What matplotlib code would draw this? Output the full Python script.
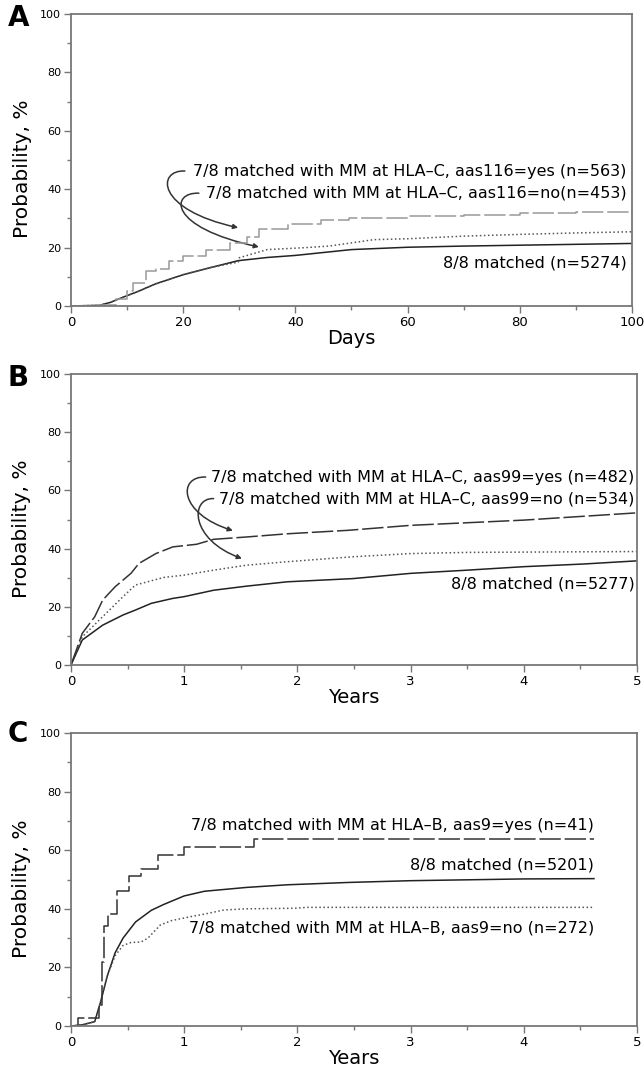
import matplotlib
matplotlib.use("Agg")
import matplotlib.pyplot as plt
from matplotlib.path import Path
from matplotlib.patches import FancyArrowPatch

plt.rcParams['font.family'] = ['DejaVu Sans']

# Panel A - days
a_days_mm116_yes = [0, 5, 8, 10, 11.1, 13.3, 15.2, 17.4, 20, 24, 28.4, 31.3, 33.5, 38.6, 44.5, 49.6, 60, 70, 80, 90, 100]
a_prob_mm116_yes = [0, 0.3, 2.5, 5.0, 7.9, 11.9, 12.5, 15.3, 17.0, 19.3, 21.6, 23.7, 26.4, 27.9, 29.4, 30.2, 30.7, 31.3, 31.9, 32.3, 32.7]
a_days_mm116_no = [0, 5, 7, 9.3, 12, 15, 20, 25, 29.8, 30, 35, 41.2, 46, 54, 60, 70, 80, 90, 100]
a_prob_mm116_no = [0, 0.2, 1.2, 3.0, 5.0, 7.5, 10.7, 13.2, 15.0, 16.5, 19.3, 19.9, 20.5, 22.7, 23.0, 23.9, 24.5, 25.0, 25.4]
a_days_match = [0, 5, 7, 9.3, 12, 15, 20, 25, 29.8, 35, 40, 50, 60, 70, 80, 100]
a_prob_match = [0, 0.2, 1.2, 3.0, 5.0, 7.5, 10.7, 13.2, 15.5, 16.6, 17.3, 19.3, 20.1, 20.5, 20.8, 21.4]

# Panel B - years
b_yrs_mm99_yes = [0, 0.1, 0.21, 0.28, 0.39, 0.53, 0.6, 0.75, 0.9, 1.11, 1.26, 1.55, 1.91, 2.45, 3.0, 3.5, 4.0, 4.52, 5.0]
b_prob_mm99_yes = [0, 10.9, 16.6, 22.3, 26.9, 31.5, 34.9, 38.3, 40.6, 41.5, 43.2, 44.0, 45.1, 46.3, 48.0, 48.9, 49.8, 51.1, 52.3]
b_yrs_mm99_no = [0, 0.1, 0.28, 0.46, 0.57, 0.82, 1.0, 1.26, 1.55, 1.91, 2.49, 3.0, 3.5, 4.45, 5.0]
b_prob_mm99_no = [0, 9.7, 16.6, 23.5, 27.5, 30.1, 30.9, 32.6, 34.3, 35.5, 37.2, 38.3, 38.7, 38.9, 39.0]
b_yrs_match = [0, 0.1, 0.28, 0.46, 0.57, 0.71, 0.9, 1.0, 1.26, 1.55, 1.91, 2.49, 3.0, 3.5, 4.0, 4.52, 5.0]
b_prob_match = [0, 8.6, 13.7, 17.2, 18.9, 21.2, 22.9, 23.5, 25.7, 27.1, 28.6, 29.7, 31.5, 32.6, 33.8, 34.7, 35.8]

# Panel C - years
c_yrs_mm9_yes = [0, 0.06, 0.25, 0.27, 0.29, 0.33, 0.41, 0.51, 0.62, 0.77, 1.0, 1.62, 4.62]
c_prob_mm9_yes = [0, 2.8, 7.3, 22.0, 34.1, 38.3, 46.0, 51.2, 53.7, 58.4, 61.0, 63.9, 63.9]
c_yrs_mm9_no = [0, 0.1, 0.21, 0.26, 0.32, 0.39, 0.46, 0.53, 0.62, 0.68, 0.79, 0.89, 1.08, 1.18, 1.35, 1.55, 1.98, 2.09, 4.62]
c_prob_mm9_no = [0, 0.4, 1.5, 8.0, 17.0, 24.0, 27.5, 28.5, 28.7, 30.0, 34.5, 36.0, 37.5, 38.2, 39.6, 40.0, 40.2, 40.5, 40.5]
c_yrs_match = [0, 0.1, 0.21, 0.26, 0.32, 0.39, 0.46, 0.57, 0.71, 0.82, 1.0, 1.18, 1.55, 1.91, 2.45, 3.0, 4.0, 4.62]
c_prob_match = [0, 0.4, 1.5, 8.0, 17.0, 25.0, 30.0, 35.5, 39.5, 41.5, 44.4, 46.0, 47.3, 48.2, 49.0, 49.6, 50.2, 50.3]

frame = '#777777'
dash = (14, 2.5)
note_size = 11.5


def style_axes(ax, xmax, xmajor, xminor, xlabel):
    ax.set_xlim(0, xmax)
    ax.set_ylim(0, 100)
    ax.set_xticks(xmajor)
    ax.set_xticks(xminor, minor=True)
    ax.set_yticks([0, 20, 40, 60, 80, 100])
    ax.set_yticks([10, 30, 50, 70, 90], minor=True)
    ax.tick_params(axis='both', which='major', direction='out', length=5, width=1, color=frame, pad=2)
    ax.tick_params(axis='both', which='minor', direction='out', length=3, width=1, color=frame)
    ax.tick_params(axis='y', labelsize=8)
    ax.tick_params(axis='x', labelsize=9.5)
    for s in ax.spines.values():
        s.set_color(frame)
        s.set_linewidth(1.3)
    ax.set_ylabel('Probability, %', fontsize=14.5)
    ax.yaxis.set_label_coords(-0.07, 0.47)
    ax.set_xlabel(xlabel, fontsize=14)
    ax.xaxis.set_label_coords(0.5, -0.08)


def hook_arrow(ax, p0, p1, p2, p3):
    path = Path([p0, p1, p2, p3], [Path.MOVETO, Path.CURVE4, Path.CURVE4, Path.CURVE4])
    arr = FancyArrowPatch(path=path, arrowstyle='-|>', mutation_scale=7,
                          lw=1.1, color='#333333')
    ax.add_patch(arr)


fig = plt.figure(figsize=(6.44, 10.69), dpi=100)

# ---- A
axA = fig.add_axes([0.1102, 0.7138, 0.8711, 0.2732])
axA.plot(a_days_match, a_prob_match, color='#222222', lw=1.1)
axA.plot(a_days_mm116_no, a_prob_mm116_no, color='#555555', lw=1.1, ls=':')
axA.plot(a_days_mm116_yes, a_prob_mm116_yes, color='#999999', lw=1.1, dashes=dash, drawstyle='steps-post')
style_axes(axA, 100, range(0, 101, 20), range(10, 100, 20), 'Days')
axA.text(99, 46.2, '7/8 matched with MM at HLA\u2013C, aas116=yes (n=563)', ha='right', va='center', fontsize=note_size)
axA.text(99, 38.6, '7/8 matched with MM at HLA\u2013C, aas116=no(n=453)', ha='right', va='center', fontsize=note_size)
axA.text(99, 14.7, '8/8 matched (n=5274)', ha='right', va='center', fontsize=note_size)
hook_arrow(axA, (20.3, 46.2), (15.3, 46.7), (15.0, 33), (29.8, 26.8))
hook_arrow(axA, (22.8, 38.6), (17.8, 39.1), (17.0, 27), (33.5, 20.2))

# ---- B
axB = fig.add_axes([0.1102, 0.3779, 0.8789, 0.2722])
axB.plot(b_yrs_match, b_prob_match, color='#222222', lw=1.1)
axB.plot(b_yrs_mm99_no, b_prob_mm99_no, color='#555555', lw=1.1, ls=':')
axB.plot(b_yrs_mm99_yes, b_prob_mm99_yes, color='#333333', lw=1.1, dashes=dash)
style_axes(axB, 5, range(0, 6), [0.5, 1.5, 2.5, 3.5, 4.5], 'Years')
axB.text(4.98, 64.6, '7/8 matched with MM at HLA\u2013C, aas99=yes (n=482)', ha='right', va='center', fontsize=note_size)
axB.text(4.98, 57.2, '7/8 matched with MM at HLA\u2013C, aas99=no (n=534)', ha='right', va='center', fontsize=note_size)
axB.text(4.98, 27.8, '8/8 matched (n=5277)', ha='right', va='center', fontsize=note_size)
hook_arrow(axB, (1.19, 64.6), (0.94, 65), (0.95, 52), (1.43, 46.2))
hook_arrow(axB, (1.26, 57.2), (1.05, 57.5), (1.05, 43), (1.51, 36.6))

# ---- C
axC = fig.add_axes([0.1102, 0.0402, 0.8789, 0.2741])
axC.plot(c_yrs_match, c_prob_match, color='#222222', lw=1.1)
axC.plot(c_yrs_mm9_no, c_prob_mm9_no, color='#555555', lw=1.1, ls=':')
axC.plot(c_yrs_mm9_yes, c_prob_mm9_yes, color='#333333', lw=1.1, dashes=dash, drawstyle='steps-post')
style_axes(axC, 5, range(0, 6), [0.5, 1.5, 2.5, 3.5, 4.5], 'Years')
axC.text(4.62, 68.3, '7/8 matched with MM at HLA\u2013B, aas9=yes (n=41)', ha='right', va='center', fontsize=note_size)
axC.text(4.62, 54.8, '8/8 matched (n=5201)', ha='right', va='center', fontsize=note_size)
axC.text(4.62, 33.4, '7/8 matched with MM at HLA\u2013B, aas9=no (n=272)', ha='right', va='center', fontsize=note_size)

# panel letters
fig.text(0.012, 1 - 18 / 1069, 'A', fontsize=20, fontweight='bold', va='center')
fig.text(0.012, 1 - 378 / 1069, 'B', fontsize=20, fontweight='bold', va='center')
fig.text(0.012, 1 - 734 / 1069, 'C', fontsize=20, fontweight='bold', va='center')

fig.savefig('out.png', dpi=100)
